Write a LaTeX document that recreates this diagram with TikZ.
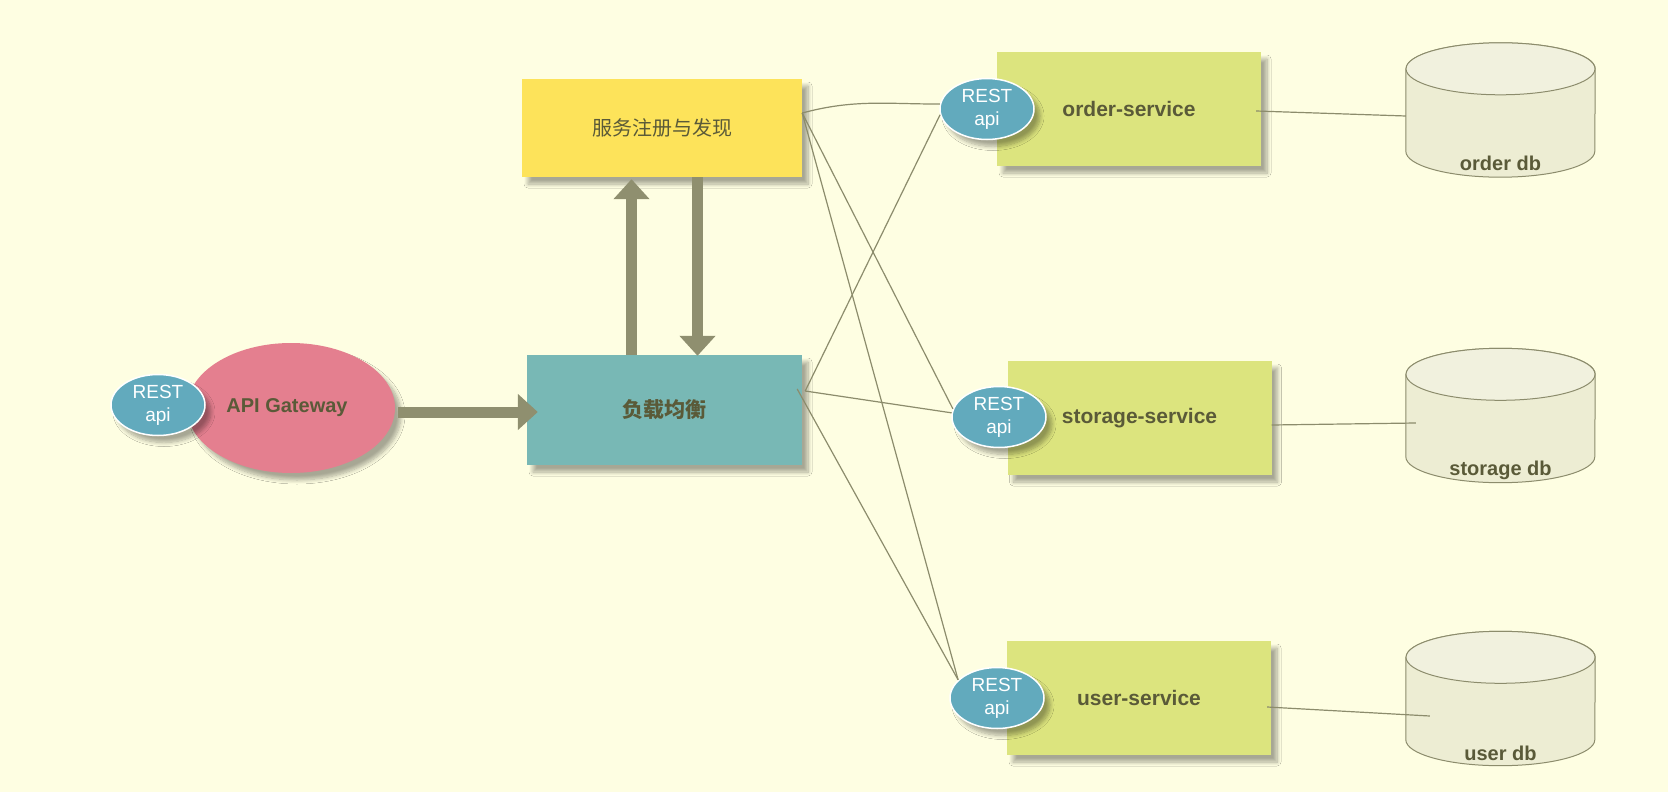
\documentclass[tikz,border=0pt]{standalone}
\usepackage{fontspec}
\setmainfont{Liberation Sans}
\newfontfamily\cjk{Noto Sans CJK SC}
\usepackage{tikz}
\usetikzlibrary{arrows.meta,shapes.geometric,shadows.blur}
\definecolor{bgc}{HTML}{FEFEE2}
\definecolor{ink}{HTML}{5A5A38}
\definecolor{yel}{HTML}{FDE35A}
\definecolor{teal}{HTML}{78B8B5}
\definecolor{pink}{HTML}{E47F8F}
\definecolor{apic}{HTML}{62AABD}
\definecolor{svc}{HTML}{DCE47E}
\definecolor{dbbody}{HTML}{EDEDD3}
\definecolor{dbtop}{HTML}{F1F1DE}
\definecolor{wire}{HTML}{8C8C6C}
\definecolor{fat}{HTML}{8F8F6F}
\tikzset{font=\fontsize{21}{25}\selectfont}
\tikzstyle{shad}=[blur shadow={shadow xshift=6pt,shadow yshift=-7pt,shadow blur radius=4pt,shadow blur steps=8,shadow opacity=34}]
\tikzstyle{box}=[rectangle,inner sep=0pt,text=ink,shad]
\tikzstyle{svcbox}=[box,fill=svc,minimum width=264pt,minimum height=114pt,font=\fontsize{21}{25}\selectfont\bfseries]
\tikzstyle{api}=[ellipse,fill=apic,draw=white,line width=1.5pt,minimum width=94pt,minimum height=61pt,inner sep=0pt,text=white,align=center,font=\fontsize{19}{23}\selectfont,shad]
\tikzstyle{db}=[rectangle,minimum width=189pt,minimum height=134pt,inner sep=0pt]
\tikzstyle{dbline}=[draw=wire,line width=1pt]
\tikzstyle{dbtext}=[text=ink,font=\fontsize{20}{24}\selectfont\bfseries,inner sep=0pt]
\tikzstyle{fatarrow}=[draw=fat,line width=11pt,-{Triangle[length=20pt,width=35pt]},fat]

\begin{document}
\begin{tikzpicture}[x=1pt,y=-1pt]
\fill[bgc] (0,0) rectangle (1668,792);
\useasboundingbox (0,0) rectangle (1668,792);
% registry and balancer
\node[box,fill=yel,minimum width=280pt,minimum height=98pt,font=\fontsize{20}{24}\selectfont\cjk] (R) at (662,128) {服务注册与发现};
\node[box,fill=teal,minimum width=275pt,minimum height=110pt,font=\fontsize{21}{25}\selectfont\cjk\bfseries] (L) at (664.5,410) {负载均衡};
% gateway
\node[ellipse,fill=pink,minimum width=208pt,minimum height=130pt,inner sep=0pt,text=ink,font=\fontsize{20}{24}\selectfont\bfseries,shad] (G) at (291,408) {\hspace*{-8pt}API Gateway};
\node[api] (GA) at (158,405) {REST\\api};
% services
\node[svcbox] (O) at (1129,109) {order-service};
\node[svcbox] (S) at (1139.5,418) {storage-service};
\node[svcbox] (U) at (1139,698) {user-service};
\node[api] (Oa) at (987,109) {REST\\api};
\node[api] (Sa) at (999,417) {REST\\api};
\node[api] (Ua) at (997,698) {REST\\api};
% databases
\node[db] (Od) at (1500.5,110) {};
\node[db] (Sd) at (1500.5,415.5) {};
\node[db] (Ud) at (1500.5,698.5) {};
\foreach \d in {Od,Sd,Ud}{
  \draw[dbline,fill=dbbody] ([yshift=-26pt]\d.north west) -- ([yshift=26pt]\d.south west)
    arc[start angle=180,end angle=360,x radius=94.5pt,y radius=26pt]
    -- ([yshift=-26pt]\d.north east)
    arc[start angle=0,end angle=180,x radius=94.5pt,y radius=26pt] -- cycle;
  \draw[dbline,fill=dbtop] ([yshift=-26pt]\d.north) ellipse[x radius=94.5pt,y radius=26pt];
}
\node[dbtext] (Odt) at (1500.5,163) {order db};
\node[dbtext] (Sdt) at (1500.5,470) {storage db};
\node[dbtext] (Udt) at (1500.5,753) {user db};
% thick arrows
\draw[fatarrow] ([yshift=-4pt,xshift=3pt]G.east) -- ([yshift=-4pt,xshift=11pt]G.east -| L.west);
\draw[fatarrow] ([xshift=-33pt]L.north) -- ([xshift=-33pt,yshift=-2pt]L.north |- R.south);
\draw[fatarrow] ([xshift=33pt]L.north |- R.south) -- ([xshift=33pt,yshift=-1pt]L.north);
% thin wires
\path[draw=wire,line width=1.2pt]
([yshift=15pt]R.east) edge[out=15,in=180] (Oa.174)
([yshift=15pt]R.east) edge (Sa.170)
([yshift=15pt]R.east) edge (Ua.155)
([xshift=3pt,yshift=19pt]L.east) edge (Oa.187)
([xshift=3pt,yshift=19pt]L.east) edge (Sa.175)
([xshift=-5pt,yshift=21pt]L.east) edge (Ua.155)
([xshift=-5pt,yshift=-2pt]O.east) edge ([yshift=-6pt]Od.west)
([yshift=-7pt]S.east) edge ([xshift=10pt,yshift=-7.5pt]Sd.west)
([xshift=-4pt,yshift=-9pt]U.east) edge ([xshift=24pt,yshift=-17.5pt]Ud.west);
\end{tikzpicture}
\end{document}
